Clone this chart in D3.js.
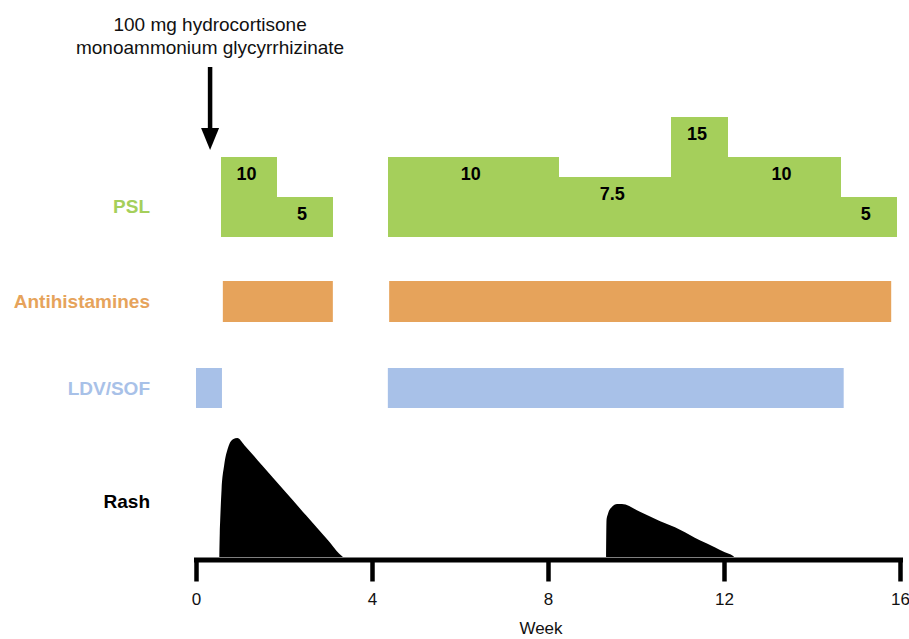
<!DOCTYPE html>
<meta charset="utf-8">
<style>
  body { margin: 0; background: #fff; }
  text { font-family: "Liberation Sans", Arial, sans-serif; }
</style>
<body>
<script src="https://d3js.org/d3.v7.min.js"></script>
<script>
    // PSL dose steps (mg), start/end in weeks
    var pslStart = [0.57, 1.82, 4.36, 8.22, 10.79, 12.07, 14.63];
    var pslEnd   = [1.82, 3.09, 8.22, 10.79, 12.07, 14.63, 15.91];
    var pslDose  = [10, 5, 10, 7.5, 15, 10, 5];
    var pslLabel = ["10", "5", "10", "7.5", "15", "10", "5"];

    var antihistStart = [0.61, 4.39];
    var antihistEnd   = [3.11, 15.8];

    var ldvStart = [0, 4.36];
    var ldvEnd   = [0.59, 14.72];

    // rash intensity (arbitrary units)
    var rash1Week = [0.53, 0.54, 0.55, 0.58, 0.64, 0.73, 0.84, 0.94, 1.1, 1.5, 2.0, 2.5, 3.0, 3.25, 3.34];
    var rash1Val  = [0, 20, 31, 56, 77, 92, 99, 100, 94, 77, 56, 35, 14, 3, 0];
    var rash2Week = [9.32, 9.33, 9.36, 9.45, 9.57, 9.68, 10.09, 10.55, 11.0, 11.45, 11.8, 12.02, 12.2, 12.23];
    var rash2Val  = [0, 31, 36, 42, 44.5, 44.5, 38, 30, 23, 14, 8, 4, 1, 0];

    var weekTicks = [0, 4, 8, 12, 16];
    var rowNames = ["PSL", "Antihistamines", "LDV/SOF", "Rash"];
    var rowColors = ["#a5cf5b", "#e6a35b", "#a8c1e8", "#000000"];
    var annotationWeek = 0.32;
    var annotationLines = ["100 mg hydrocortisone", "monoammonium glycyrrhizinate"];

    var svg = d3.select("body").append("svg")
        .attr("width", 909)
        .attr("height", 639);

    var x = d3.scaleLinear().domain([0, 16]).range([196, 900]);
    var yDose = d3.scaleLinear().domain([0, 15]).range([237, 117]);
    var yRash = d3.scaleLinear().domain([0, 100]).range([557, 438]);

    // row label positions
    var labelY = [206, 301, 388, 501];
    svg.selectAll("text.row")
        .data(rowNames)
        .enter().append("text")
        .attr("class", "row")
        .attr("x", 150)
        .attr("y", function(d, i) { return labelY[i]; })
        .attr("dy", "0.35em")
        .attr("text-anchor", "end")
        .attr("font-size", 19)
        .attr("font-weight", "bold")
        .attr("fill", function(d, i) { return rowColors[i]; })
        .text(function(d) { return d; });

    // PSL steps
    var psl = pslDose.map(function(d, i) {
        return {s: pslStart[i], e: pslEnd[i], dose: d, label: pslLabel[i]};
    });
    svg.selectAll("rect.psl")
        .data(psl)
        .enter().append("rect")
        .attr("class", "psl")
        .attr("x", function(d) { return Math.round(x(d.s)); })
        .attr("width", function(d) { return Math.round(x(d.e)) - Math.round(x(d.s)) + 1; })
        .attr("y", function(d) { return Math.round(yDose(d.dose)); })
        .attr("height", function(d) { return Math.round(yDose(0) - yDose(d.dose)); })
        .attr("shape-rendering", "crispEdges")
        .attr("fill", rowColors[0]);
    svg.selectAll("text.dose")
        .data(psl)
        .enter().append("text")
        .attr("class", "dose")
        .attr("x", function(d) { return (x(d.s) + x(d.e)) / 2 - 2; })
        .attr("y", function(d) { return yDose(d.dose) + 17; })
        .attr("dy", "0.35em")
        .attr("text-anchor", "middle")
        .attr("font-size", 18)
        .attr("font-weight", "bold")
        .text(function(d) { return d.label; });

    // antihistamines
    svg.selectAll("rect.ah")
        .data(antihistStart)
        .enter().append("rect")
        .attr("x", function(d) { return x(d); })
        .attr("width", function(d, i) { return x(antihistEnd[i]) - x(d); })
        .attr("y", 281)
        .attr("height", 41)
        .attr("fill", rowColors[1]);

    // LDV/SOF
    svg.selectAll("rect.ldv")
        .data(ldvStart)
        .enter().append("rect")
        .attr("x", function(d) { return x(d); })
        .attr("width", function(d, i) { return x(ldvEnd[i]) - x(d); })
        .attr("y", 368)
        .attr("height", 40)
        .attr("fill", rowColors[2]);

    // rash
    var area = d3.area()
        .x(function(d) { return x(d[0]); })
        .y0(yRash(0))
        .y1(function(d) { return yRash(d[1]); })
        .curve(d3.curveMonotoneX);
    [[rash1Week, rash1Val], [rash2Week, rash2Val]].forEach(function(r) {
        svg.append("path")
            .datum(d3.zip(r[0], r[1]))
            .attr("fill", "#000")
            .attr("d", area);
    });

    // axis
    var axis = svg.append("g")
        .attr("transform", "translate(0,559.5)")
        .call(d3.axisBottom(x).tickValues(weekTicks).tickSize(22).tickSizeOuter(0).tickPadding(11));
    axis.select(".domain")
        .attr("stroke", "#000")
        .attr("stroke-width", 5)
        .attr("stroke-linecap", "square");
    axis.selectAll(".tick line")
        .attr("stroke", "#000")
        .attr("stroke-width", 4.5);
    axis.selectAll(".tick text")
        .attr("font-size", 17)
        .attr("fill", "#111");

    svg.append("text")
        .attr("x", 541)
        .attr("y", 634)
        .attr("text-anchor", "middle")
        .attr("font-size", 17)
        .attr("fill", "#111")
        .text("Week");

    // annotation + arrow
    svg.selectAll("text.note")
        .data(annotationLines)
        .enter().append("text")
        .attr("x", x(annotationWeek))
        .attr("y", function(d, i) { return 31 + i * 23; })
        .attr("text-anchor", "middle")
        .attr("font-size", 19)
        .attr("fill", "#111")
        .text(function(d) { return d; });

    var ax = x(annotationWeek);
    svg.append("line")
        .attr("x1", ax).attr("x2", ax)
        .attr("y1", 67).attr("y2", 132)
        .attr("stroke", "#000")
        .attr("stroke-width", 4.5);
    svg.append("path")
        .attr("d", d3.line()([[ax - 9, 128], [ax + 9, 128], [ax, 150]]))
        .attr("fill", "#000");
</script>
</body>
